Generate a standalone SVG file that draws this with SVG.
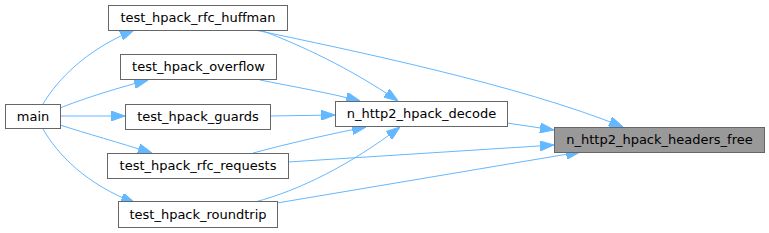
<svg xmlns="http://www.w3.org/2000/svg" width="769" height="233" viewBox="0 0 769 233">
<style>
.n rect{fill:#ffffff;stroke:#666666;stroke-width:1}
.n.h rect{fill:#999999}
.n text{font-family:"DejaVu Sans",sans-serif;font-size:13px;fill:#000000;text-anchor:middle}
.e path{fill:none;stroke:#63b8ff;stroke-width:1;marker-end:url(#a)}
</style>
<defs>
<marker id="a" markerUnits="userSpaceOnUse" viewBox="0 0 14 10" refX="14" refY="5" markerWidth="14" markerHeight="10" orient="auto">
<path d="M0,0 L14,5 L0,10 Z" fill="#63b8ff" stroke="#63b8ff" stroke-width="1"/>
</marker>
</defs>
<rect width="769" height="233" fill="#ffffff"/>
<g id="edges" class="e">
<path d="M43,104 C58,79 86,50 134,30"/>
<path d="M60,108 C80,100 110,90 148,80"/>
<path d="M60,116 L125,116"/>
<path d="M60,125 C85,133 120,143 152,153"/>
<path d="M43,129 C58,155 86,184 135,203"/>
<path d="M263,31 C300,45 350,68 398,101"/>
<path d="M255,30 C350,50 520,85 623,127"/>
<path d="M260,80 C290,86 330,93 360,101"/>
<path d="M270,116 L335,115"/>
<path d="M253,153 C290,143 330,134 366,127"/>
<path d="M255,202 C300,190 350,165 400,127"/>
<path d="M507,123 L554,130"/>
<path d="M288,162 L554,145"/>
<path d="M277,203 L580,152"/>
</g>
<g id="main" class="n"><rect x="5.5" y="104.5" width="55" height="24"/><text x="33" y="121">main</text></g>
<g id="test_hpack_rfc_huffman" class="n"><rect x="108.5" y="5.5" width="179" height="25"/><text x="198" y="22">test_hpack_rfc_huffman</text></g>
<g id="test_hpack_overflow" class="n"><rect x="120.5" y="54.5" width="156" height="25"/><text x="198.5" y="71">test_hpack_overflow</text></g>
<g id="test_hpack_guards" class="n"><rect x="125.5" y="104.5" width="145" height="25"/><text x="198" y="121">test_hpack_guards</text></g>
<g id="test_hpack_rfc_requests" class="n"><rect x="107.5" y="153.5" width="181" height="25"/><text x="198" y="170">test_hpack_rfc_requests</text></g>
<g id="test_hpack_roundtrip" class="n"><rect x="118.5" y="201.5" width="159" height="26"/><text x="198" y="219">test_hpack_roundtrip</text></g>
<g id="n_http2_hpack_decode" class="n"><rect x="335.5" y="101.5" width="172" height="25"/><text x="421.5" y="118">n_http2_hpack_decode</text></g>
<g id="n_http2_hpack_headers_free" class="n h"><rect x="554.5" y="127.5" width="210" height="25"/><text x="659.5" y="144">n_http2_hpack_headers_free</text></g>
</svg>
